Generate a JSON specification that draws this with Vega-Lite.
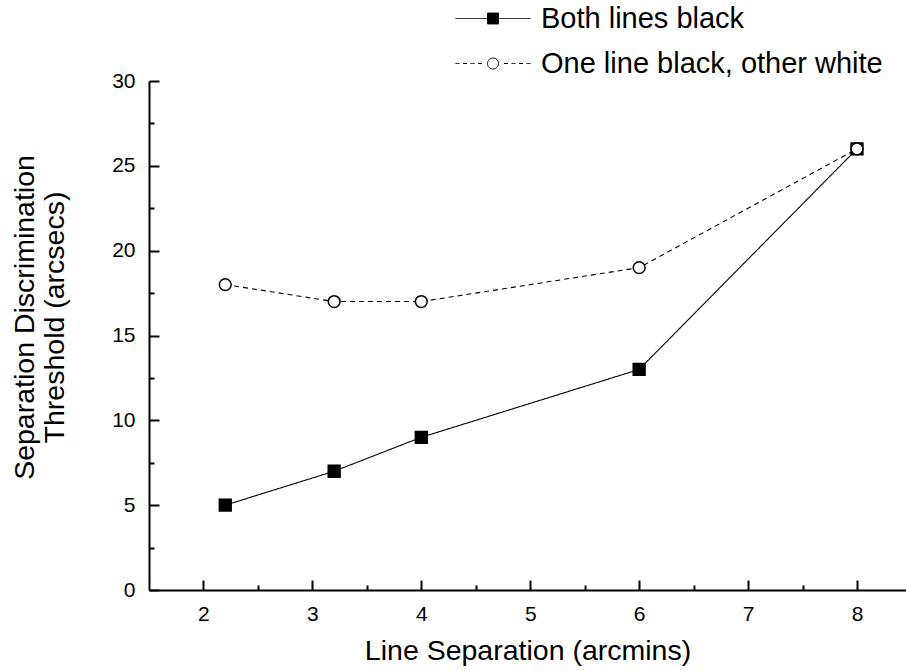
{
  "$schema": "https://vega.github.io/schema/vega-lite/v6.json",
  "width": 757,
  "height": 509,
  "autosize": {"type": "none"},
  "padding": {"left": 149, "top": 81, "right": 0, "bottom": 81},
  "background": "white",
  "config": {"view": {"stroke": null}, "font": "Liberation Sans"},
  "data": {
    "values": [
      {"series": "Both lines black", "sep": 2.2, "thr": 5},
      {"series": "Both lines black", "sep": 3.2, "thr": 7},
      {"series": "Both lines black", "sep": 4, "thr": 9},
      {"series": "Both lines black", "sep": 6, "thr": 13},
      {"series": "Both lines black", "sep": 8, "thr": 26},
      {"series": "One line black, other white", "sep": 2.2, "thr": 18},
      {"series": "One line black, other white", "sep": 3.2, "thr": 17},
      {"series": "One line black, other white", "sep": 4, "thr": 17},
      {"series": "One line black, other white", "sep": 6, "thr": 19},
      {"series": "One line black, other white", "sep": 8, "thr": 26}
    ]
  },
  "encoding": {
    "x": {
      "field": "sep",
      "type": "quantitative",
      "scale": {"domain": [1.5, 8.45], "nice": false, "zero": false},
      "axis": {
        "title": "Line Separation (arcmins)",
        "titleFont": "Liberation Sans",
        "titleFontSize": 28.5,
        "titleFontWeight": "normal",
        "titleColor": "black",
        "titleY": 60,
        "titleBaseline": "middle",
        "values": [2, 2.5, 3, 3.5, 4, 4.5, 5, 5.5, 6, 6.5, 7, 7.5, 8],
        "format": "~g",
        "labelExpr": "datum.value % 1 === 0 ? datum.label : ''",
        "labelFont": "Liberation Sans",
        "labelFontSize": 21,
        "labelColor": "black",
        "labelPadding": 23,
        "labelFlush": false,
        "grid": false,
        "domainColor": "black",
        "domainWidth": 2,
        "tickColor": "black",
        "tickWidth": 2,
        "tickSize": {"condition": {"test": "datum.value % 1 === 0", "value": -10}, "value": -5}
      }
    },
    "y": {
      "field": "thr",
      "type": "quantitative",
      "scale": {"domain": [0, 30], "nice": false},
      "axis": {
        "title": ["Separation Discrimination", "Threshold (arcsecs)"],
        "titleFont": "Liberation Sans",
        "titleFontSize": 28.5,
        "titleFontWeight": "normal",
        "titleColor": "black",
        "titleAngle": 270,
        "titleX": -125,
        "titleY": 236,
        "titleAlign": "center",
        "titleBaseline": "middle",
        "titleLineHeight": 30,
        "values": [0, 2.5, 5, 7.5, 10, 12.5, 15, 17.5, 20, 22.5, 25, 27.5, 30],
        "format": "~g",
        "labelExpr": "datum.value % 5 === 0 ? datum.label : ''",
        "labelFont": "Liberation Sans",
        "labelFontSize": 21,
        "labelColor": "black",
        "labelPadding": 24,
        "labelFlush": false,
        "grid": false,
        "domainColor": "black",
        "domainWidth": 2,
        "tickColor": "black",
        "tickWidth": 2,
        "tickSize": {"condition": {"test": "datum.value % 5 === 0", "value": -10}, "value": -5}
      }
    }
  },
  "layer": [
    {
      "mark": {"type": "line", "color": "black", "strokeWidth": 1.1},
      "encoding": {
        "strokeDash": {
          "field": "series",
          "type": "nominal",
          "scale": {"range": [[1, 0], [5, 4]]},
          "legend": null
        },
        "opacity": {
          "field": "series",
          "type": "nominal",
          "scale": {"domain": ["Both lines black", "One line black, other white"], "range": [1, 1]},
          "legend": {
            "orient": "none",
            "legendX": 329.5,
            "legendY": -77,
            "title": null,
            "padding": 0,
            "symbolSize": 100,
            "symbolStrokeColor": "black",
            "symbolStrokeWidth": 1,
            "labelFont": "Liberation Sans",
            "labelFontSize": 29,
            "labelColor": "black",
            "labelLimit": 0,
            "labelOffset": 33.5,
            "rowPadding": 15,
            "encode": {
              "symbols": {
                "update": {
                  "shape": {"signal": "datum.value === 'Both lines black' ? 'M-7.5,0H-1.1M1.1,0H7.5M-1.1,-1.1H1.1V1.1H-1.1Z' : 'M-7.5,0H-6.7M-6,0H-5.2M-4.5,0H-3.7M-3,0H-2.2M2.2,0H3M3.7,0H4.5M5.2,0H6M6.7,0H7.5M1.1,0C1.1,0.6075 0.6075,1.1 0,1.1C-0.6075,1.1 -1.1,0.6075 -1.1,0C-1.1,-0.6075 -0.6075,-1.1 0,-1.1C0.6075,-1.1 1.1,-0.6075 1.1,0Z'"},
                  "fill": {"signal": "datum.value === 'Both lines black' ? 'black' : 'white'"},
                  "stroke": {"value": "black"},
                  "strokeWidth": {"value": 1},
                  "strokeDash": {"value": [1, 0]},
                  "size": {"value": 100}
                }
              }
            }
          }
        }
      }
    },
    {
      "mark": {"type": "point", "stroke": "black", "strokeWidth": 1.5, "opacity": 1, "size": 140},
      "encoding": {
        "shape": {
          "field": "series",
          "type": "nominal",
          "scale": {"range": ["square", "circle"]},
          "legend": null
        },
        "fill": {
          "field": "series",
          "type": "nominal",
          "scale": {"range": ["black", "white"]},
          "legend": null
        }
      }
    }
  ]
}
